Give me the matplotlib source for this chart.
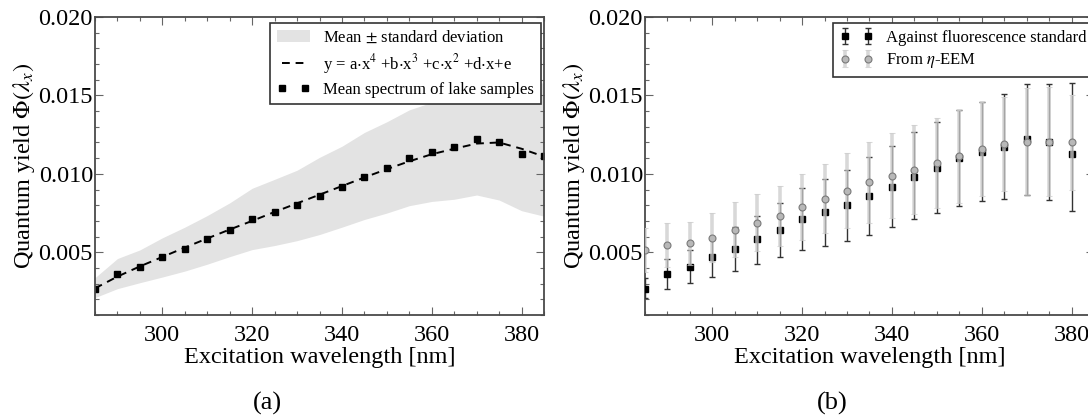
import numpy as np
import matplotlib
matplotlib.use("Agg")
import matplotlib.pyplot as plt
from matplotlib.ticker import MultipleLocator, FormatStrFormatter

plt.rcParams['font.family'] = 'serif'
plt.rcParams['font.serif'] = ['Liberation Serif', 'DejaVu Serif']
plt.rcParams['mathtext.fontset'] = 'stix'

# excitation wavelengths [nm]
wavelength = np.arange(285, 390, 5)

# mean quantum yield of lake samples (against fluorescence standard)
mean_yield = [0.00265, 0.00359, 0.00408, 0.00467, 0.00522, 0.00582, 0.00642, 0.00710,
              0.00755, 0.00799, 0.00860, 0.00918, 0.00981, 0.01040, 0.01100, 0.01139,
              0.01171, 0.01220, 0.01202, 0.01128, 0.01111]
# mean + std and mean - std
upper_yield = [0.00338, 0.00460, 0.00515, 0.00592, 0.00660, 0.00734, 0.00815, 0.00908,
               0.00965, 0.01023, 0.01105, 0.01176, 0.01264, 0.01332, 0.01408, 0.01456,
               0.01508, 0.01575, 0.01575, 0.01580, 0.01580]
lower_yield = [0.00211, 0.00268, 0.00306, 0.00342, 0.00380, 0.00424, 0.00472, 0.00517,
               0.00543, 0.00574, 0.00613, 0.00660, 0.00709, 0.00750, 0.00797, 0.00824,
               0.00838, 0.00865, 0.00833, 0.00765, 0.00730]
# quartic fit of the mean spectrum
fit_yield = [0.00270, 0.00345, 0.00410, 0.00470, 0.00530, 0.00588, 0.00645, 0.00700,
             0.00757, 0.00812, 0.00867, 0.00922, 0.00977, 0.01030, 0.01080, 0.01125,
             0.01160, 0.01193, 0.01200, 0.01160, 0.01110]

# quantum yield from eta-EEM
eem_wavelength = np.arange(285, 385, 5)
eem_yield = [0.00516, 0.00544, 0.00557, 0.00593, 0.00644, 0.00689, 0.00733, 0.00791,
             0.00840, 0.00893, 0.00946, 0.00989, 0.01027, 0.01068, 0.01111, 0.01158,
             0.01192, 0.01206, 0.01206, 0.01200]
eem_std = [0.00140, 0.00141, 0.00138, 0.00156, 0.00175, 0.00181, 0.00192, 0.00210,
           0.00220, 0.00240, 0.00260, 0.00270, 0.00284, 0.00288, 0.00298, 0.00300,
           0.00300, 0.00340, 0.00350, 0.00300]

mean_yield = np.array(mean_yield)
upper_yield = np.array(upper_yield)
lower_yield = np.array(lower_yield)

W, H = 1088, 420
fig = plt.figure(figsize=(W / 100, H / 100), dpi=100)
ax1 = fig.add_axes([95 / W, 1 - 315 / H, 449 / W, 298 / H])
ax2 = fig.add_axes([645 / W, 1 - 315 / H, 449 / W, 298 / H])

frame_col = '#4a4a4a'
fs = 17.5


def style_axes(ax):
    ax.set_xlim(285, 385)
    ax.set_ylim(0.001, 0.020)
    ax.set_xticks([300, 320, 340, 360, 380])
    ax.set_yticks([0.005, 0.010, 0.015, 0.020])
    ax.xaxis.set_minor_locator(MultipleLocator(5))
    ax.yaxis.set_minor_locator(MultipleLocator(0.001))
    ax.yaxis.set_major_formatter(FormatStrFormatter('%.3f'))
    ax.tick_params(which='both', direction='in', top=True, right=True,
                   color='#666666', labelsize=fs, width=0.8)
    ax.tick_params(which='major', length=6)
    ax.tick_params(which='minor', length=3)
    ax.tick_params(axis='y', pad=1.5)
    ax.tick_params(axis='x', pad=7)
    for sp in ax.spines.values():
        sp.set_color(frame_col)
        sp.set_linewidth(1.3)
    ax.set_xlabel('Excitation wavelength [nm]', fontsize=fs, labelpad=1)
    ax.set_ylabel(r'Quantum yield $\Phi(\lambda_x)$', fontsize=fs, labelpad=1)


# (a) mean spectrum with std band and polynomial fit
band = ax1.fill_between(wavelength, lower_yield, upper_yield, color='#e3e3e3',
                        linewidth=0)
fit_line, = ax1.plot(wavelength, fit_yield, color='black', linestyle=(0, (4, 3)),
                     linewidth=1.4)
mean_pts, = ax1.plot(wavelength, mean_yield, 's', color='black', markersize=4)
style_axes(ax1)
leg1 = ax1.legend([band, fit_line, mean_pts],
                  [r'Mean $\pm$ standard deviation',
                   r'y = a$\cdot$x$^4$ +b$\cdot$x$^3$ +c$\cdot$x$^2$ +d$\cdot$x+e',
                   'Mean spectrum of lake samples'],
                  loc='upper right', bbox_to_anchor=(541 / W, 1 - 23 / H),
                  bbox_transform=fig.transFigure, numpoints=2, fontsize=12,
                  fancybox=False, framealpha=1, edgecolor='#333333',
                  handlelength=2.0, handletextpad=0.8, labelspacing=0.35,
                  borderpad=0.4, borderaxespad=0)
leg1.get_frame().set_linewidth(1.2)

# (b) comparison of the two methods
eb1 = ax2.errorbar(wavelength, mean_yield,
                   yerr=[mean_yield - lower_yield, upper_yield - mean_yield],
                   fmt='s', color='black', markersize=4.5, ecolor='#333333',
                   elinewidth=1.0, capsize=2.5, capthick=1.0, zorder=3)
eb2 = ax2.errorbar(eem_wavelength, eem_yield, yerr=eem_std,
                   fmt='o', markerfacecolor='#b8b8b8', markeredgecolor='#7a7a7a',
                   markeredgewidth=0.8, markersize=5, ecolor=(0.80, 0.80, 0.80, 0.75),
                   elinewidth=2.6, capsize=2.5, capthick=1.0, zorder=4)
style_axes(ax2)
leg2 = ax2.legend([eb1, eb2], ['Against fluorescence standard', r'From $\eta$-EEM'],
                  loc='upper left', bbox_to_anchor=(833 / W, 1 - 23 / H),
                  bbox_transform=fig.transFigure, numpoints=2, fontsize=12,
                  fancybox=False, framealpha=1, edgecolor='#333333',
                  handlelength=2.0, handletextpad=0.8, labelspacing=0.35,
                  borderpad=0.4, borderaxespad=0)
leg2.get_frame().set_linewidth(1.2)

fig.text(267 / W, 1 - 403 / H, '(a)', fontsize=19, ha='center', va='center')
fig.text(832 / W, 1 - 403 / H, '(b)', fontsize=19, ha='center', va='center')

fig.savefig('out.png', dpi=100)
